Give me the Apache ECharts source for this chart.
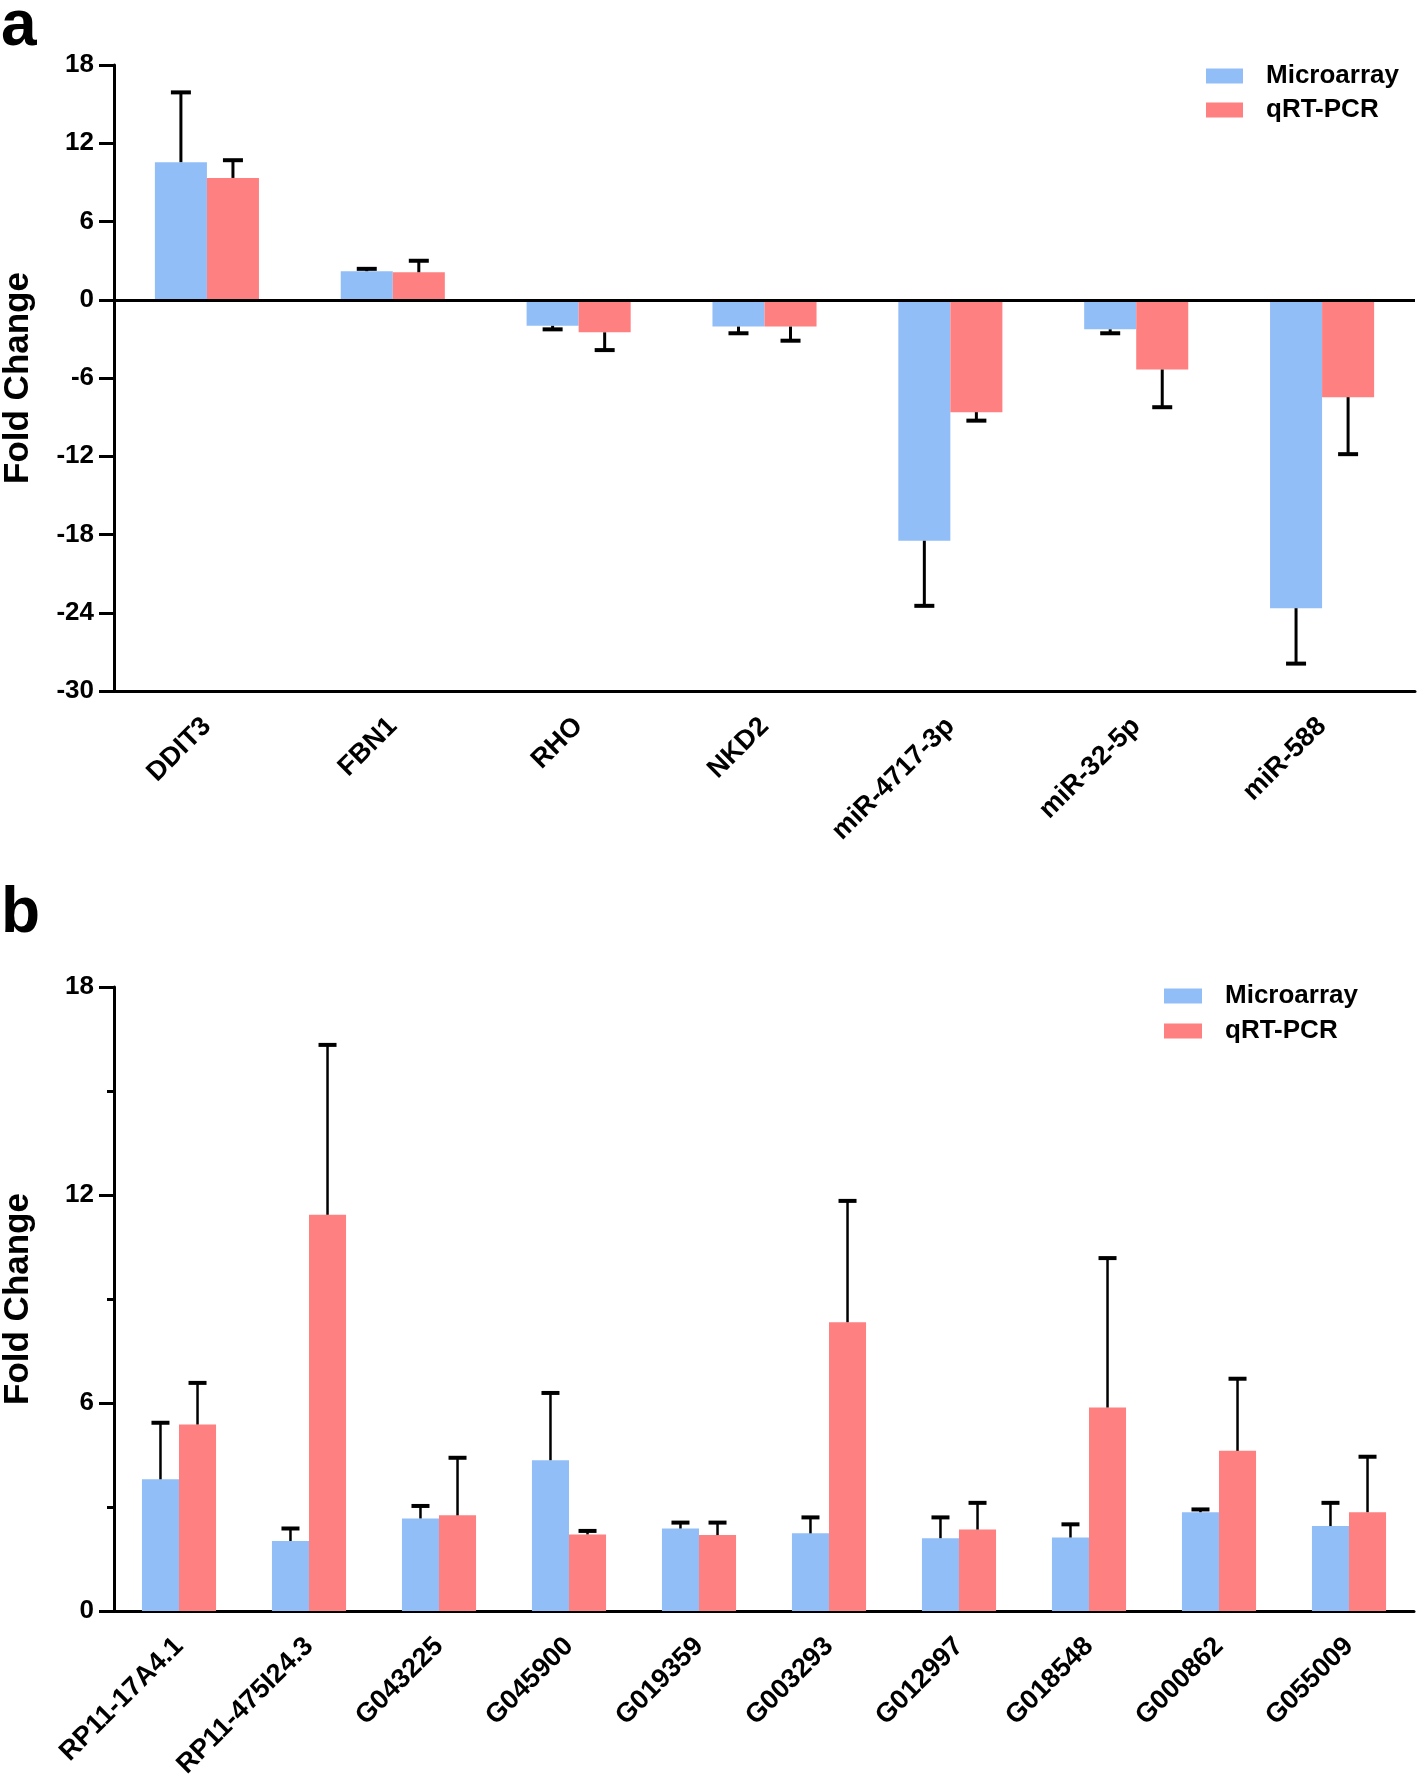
<!DOCTYPE html>
<html>
<head>
<meta charset="utf-8">
<script src="https://cdn.jsdelivr.net/npm/echarts@6/dist/echarts.min.js"></script>
<style>
html,body{margin:0;padding:0;background:#fff;}
#chart{width:1418px;height:1777px;}
</style>
</head>
<body>
<div id="chart"></div>
<script>
// ---- Panel a data ----
var catsA = ['DDIT3', 'FBN1', 'RHO', 'NKD2', 'miR-4717-3p', 'miR-32-5p', 'miR-588'];
var microA = [10.55, 2.19, -2.0, -2.06, -18.48, -2.27, -23.65];
var microAErr = [5.35, 0.18, 0.27, 0.51, 4.99, 0.30, 4.25];
var qpcrA = [9.34, 2.11, -2.5, -2.06, -8.62, -5.35, -7.47];
var qpcrAErr = [1.36, 0.88, 1.36, 1.08, 0.65, 2.89, 4.37];
var ticksA = { min: -30, max: 18, interval: 6 };

// ---- Panel b data ----
var catsB = ['RP11-17A4.1', 'RP11-475I24.3', 'G043225', 'G045900', 'G019359', 'G003293', 'G012997', 'G018548', 'G000862', 'G055009'];
var microB = [3.80, 2.02, 2.67, 4.35, 2.38, 2.24, 2.10, 2.12, 2.85, 2.45];
var microBErr = [1.63, 0.36, 0.36, 1.94, 0.17, 0.46, 0.60, 0.38, 0.08, 0.67];
var qpcrB = [5.38, 11.43, 2.76, 2.21, 2.19, 8.33, 2.35, 5.87, 4.62, 2.85];
var qpcrBErr = [1.20, 4.90, 1.66, 0.10, 0.36, 3.50, 0.77, 4.31, 2.08, 1.60];
var ticksB = { min: 0, max: 18, interval: 6 };

var seriesNames = ['Microarray', 'qRT-PCR'];
var colors = ['#92BEF8', '#FF8080'];
var FONT = "'Liberation Sans', Arial, sans-serif";

function errData(vals, errs) {
  return vals.map(function (v, i) { return [i, v, errs[i]]; });
}

function makeErrRender(side, gapFrac, stemW, capW, capLen) {
  return function (params, api) {
    var idx = api.value(0), v = api.value(1), e = api.value(2);
    var sign = v >= 0 ? 1 : -1;
    var p0 = api.coord([idx, v]);
    var p1 = api.coord([idx, v + sign * e]);
    var band = api.size([1, 0])[0];
    var barW = band * (1 - gapFrac) / 2;
    var x = p0[0] + side * barW / 2;
    return {
      type: 'group',
      children: [
        { type: 'line', shape: { x1: x, y1: p0[1], x2: x, y2: p1[1] },
          style: { stroke: '#000', lineWidth: stemW } },
        { type: 'line', shape: { x1: x - capLen / 2, y1: p1[1], x2: x + capLen / 2, y2: p1[1] },
          style: { stroke: '#000', lineWidth: capW } }
      ]
    };
  };
}

var axisLabelStyle = { fontFamily: FONT, fontWeight: 'bold', color: '#000' };

var option = {
  animation: false,
  backgroundColor: '#fff',
  textStyle: { fontFamily: FONT },
  graphic: [
    { type: 'text', left: 1, top: -5, style: { text: 'a', font: 'bold 64px ' + FONT, fill: '#000' } },
    { type: 'text', left: 1, top: 882, style: { text: 'b', font: 'bold 64px ' + FONT, fill: '#000' } }
  ],
  legend: [
    { orient: 'vertical', left: 1206, top: 61, padding: 0, itemWidth: 37, itemHeight: 15, itemGap: 4,
      data: seriesNames, icon: 'rect',
      textStyle: { fontFamily: FONT, fontWeight: 'bold', fontSize: 26, color: '#000', lineHeight: 30, padding: [0, 0, 0, 18] } },
    { orient: 'vertical', left: 1164, top: 981, padding: 0, itemWidth: 38, itemHeight: 15, itemGap: 5,
      data: seriesNames, icon: 'rect',
      textStyle: { fontFamily: FONT, fontWeight: 'bold', fontSize: 26, color: '#000', lineHeight: 30, padding: [0, 0, 0, 18] } }
  ],
  grid: [
    { left: 114, right: 3, top: 65, height: 626, containLabel: false, outerBoundsMode: 'none' },
    { left: 114, right: 4, top: 987, height: 624, containLabel: false, outerBoundsMode: 'none' }
  ],
  xAxis: [
    { gridIndex: 0, type: 'category', data: catsA,
      axisLine: { onZero: false, lineStyle: { color: '#000', width: 3 } },
      axisTick: { alignWithLabel: true, length: 14, lineStyle: { color: '#000', width: 3 } },
      axisLabel: Object.assign({ rotate: 45, fontSize: 27, margin: 31, interval: 0 }, axisLabelStyle),
      splitLine: { show: false } },
    { gridIndex: 1, type: 'category', data: catsB,
      axisLine: { onZero: false, lineStyle: { color: '#000', width: 3 } },
      axisTick: { alignWithLabel: true, length: 14, lineStyle: { color: '#000', width: 3 } },
      axisLabel: Object.assign({ rotate: 45, fontSize: 27, margin: 31, interval: 0 }, axisLabelStyle),
      splitLine: { show: false } }
  ],
  yAxis: [
    { gridIndex: 0, type: 'value', min: ticksA.min, max: ticksA.max, interval: ticksA.interval,
      name: 'Fold Change', nameLocation: 'middle', nameGap: 78, nameRotate: 90,
      nameTextStyle: { fontFamily: FONT, fontWeight: 'bold', fontSize: 35, color: '#000' },
      axisLine: { show: true, lineStyle: { color: '#000', width: 3 } },
      axisTick: { show: true, length: 15, lineStyle: { color: '#000', width: 3 } },
      axisLabel: Object.assign({ fontSize: 26, margin: 20 }, axisLabelStyle),
      splitLine: { show: false } },
    { gridIndex: 1, type: 'value', min: ticksB.min, max: ticksB.max, interval: ticksB.interval,
      name: 'Fold Change', nameLocation: 'middle', nameGap: 78, nameRotate: 90,
      nameTextStyle: { fontFamily: FONT, fontWeight: 'bold', fontSize: 35, color: '#000' },
      axisLine: { show: true, lineStyle: { color: '#000', width: 3 } },
      axisTick: { show: true, length: 15, lineStyle: { color: '#000', width: 3 } },
      minorTick: { show: true, splitNumber: 2, length: 7, lineStyle: { color: '#000', width: 3 } },
      axisLabel: Object.assign({ fontSize: 26, margin: 20 }, axisLabelStyle),
      splitLine: { show: false } }
  ],
  series: [
    { name: seriesNames[0], type: 'bar', xAxisIndex: 0, yAxisIndex: 0, data: microA,
      barGap: '0%', barCategoryGap: '44%', itemStyle: { color: colors[0] },
      markLine: { silent: true, symbol: 'none', label: { show: false },
        lineStyle: { color: '#000', width: 3, type: 'solid' }, data: [{ yAxis: 0 }] } },
    { name: seriesNames[1], type: 'bar', xAxisIndex: 0, yAxisIndex: 0, data: qpcrA,
      barGap: '0%', barCategoryGap: '44%', itemStyle: { color: colors[1] } },
    { name: 'errA1', type: 'custom', xAxisIndex: 0, yAxisIndex: 0, z: 5,
      renderItem: makeErrRender(-1, 0.44, 3, 4, 20), data: errData(microA, microAErr) },
    { name: 'errA2', type: 'custom', xAxisIndex: 0, yAxisIndex: 0, z: 5,
      renderItem: makeErrRender(1, 0.44, 3, 4, 20), data: errData(qpcrA, qpcrAErr) },

    { name: seriesNames[0], type: 'bar', xAxisIndex: 1, yAxisIndex: 1, data: microB,
      barGap: '0%', barCategoryGap: '43%', itemStyle: { color: colors[0] } },
    { name: seriesNames[1], type: 'bar', xAxisIndex: 1, yAxisIndex: 1, data: qpcrB,
      barGap: '0%', barCategoryGap: '43%', itemStyle: { color: colors[1] } },
    { name: 'errB1', type: 'custom', xAxisIndex: 1, yAxisIndex: 1, z: 5,
      renderItem: makeErrRender(-1, 0.43, 2.5, 4, 18), data: errData(microB, microBErr) },
    { name: 'errB2', type: 'custom', xAxisIndex: 1, yAxisIndex: 1, z: 5,
      renderItem: makeErrRender(1, 0.43, 2.5, 4, 18), data: errData(qpcrB, qpcrBErr) }
  ]
};

var chart = echarts.init(document.getElementById('chart'), null, { renderer: 'canvas', width: 1418, height: 1777 });
chart.setOption(option);
</script>
</body>
</html>
